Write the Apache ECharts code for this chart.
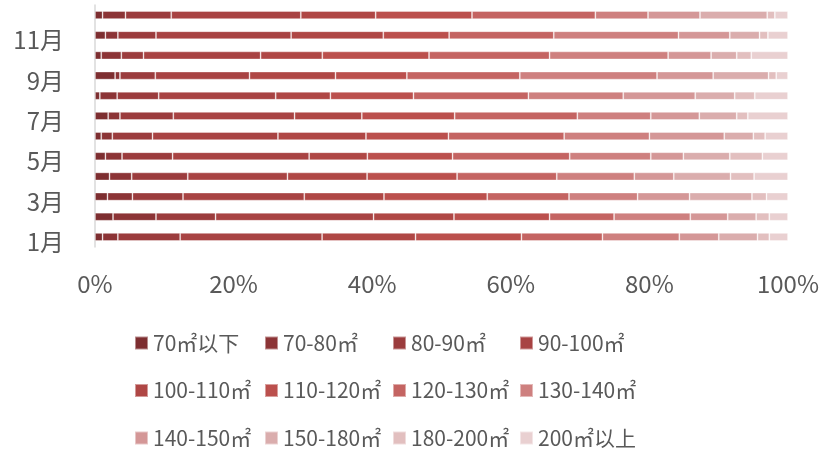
<!DOCTYPE html>
<html>
<head>
<meta charset="utf-8">
<script src="https://cdn.jsdelivr.net/npm/echarts@6/dist/echarts.min.js"></script>
<style>
  html, body { margin: 0; padding: 0; background: #ffffff; }
  #chart { width: 827px; height: 451px; }
</style>
</head>
<body>
<div id="chart"></div>
<script>
// Months, bottom to top
const months = ['1月','2月','3月','4月','5月','6月','7月','8月','9月','10月','11月','12月'];

// Size bands (share of transactions, %)
const bandNames = ['70㎡以下','70-80㎡','80-90㎡','90-100㎡','100-110㎡','110-120㎡',
                   '120-130㎡','130-140㎡','140-150㎡','150-180㎡','180-200㎡','200㎡以上'];

const band70Below  = [1.1, 2.6, 1.8, 2.1, 1.5, 0.9, 1.9, 0.7, 2.9, 0.9, 1.5, 1.1];
const band70to80   = [2.2, 6.2, 3.6, 3.2, 2.4, 1.6, 1.7, 2.5, 0.7, 2.9, 1.8, 3.3];
const band80to90   = [9.0, 8.6, 7.3, 8.1, 7.3, 5.8, 7.7, 6.0, 5.1, 3.2, 5.5, 6.6];
const band90to100  = [20.5, 22.8, 17.5, 14.4, 19.7, 18.1, 17.5, 16.9, 13.6, 16.9, 19.5, 18.7];
const band100to110 = [13.5, 11.6, 11.5, 11.5, 8.4, 12.7, 9.7, 7.9, 12.4, 8.9, 13.3, 10.8];
const band110to120 = [15.3, 13.8, 14.9, 13.0, 12.3, 11.9, 13.4, 12.0, 10.3, 15.4, 9.5, 13.9];
const band120to130 = [11.7, 9.3, 11.8, 14.4, 16.9, 16.7, 17.7, 16.6, 16.3, 17.4, 15.1, 17.8];
const band130to140 = [11.1, 11.0, 9.9, 11.2, 11.7, 12.3, 10.6, 13.7, 19.8, 17.1, 18.0, 7.6];
const band140to150 = [5.7, 5.4, 7.5, 5.7, 4.7, 10.8, 7.0, 10.4, 8.1, 6.2, 7.4, 7.5];
const band150to180 = [5.6, 4.1, 9.0, 8.2, 6.7, 4.2, 5.4, 5.7, 8.0, 3.7, 4.3, 9.7];
const band180to200 = [1.7, 1.9, 2.1, 3.4, 4.7, 1.7, 1.6, 2.9, 1.1, 2.1, 1.2, 1.1];
const band200Above = [2.7, 2.7, 3.1, 4.9, 3.7, 3.3, 5.8, 4.8, 1.7, 5.3, 2.9, 1.9];

const bandValues = [band70Below, band70to80, band80to90, band90to100, band100to110, band110to120,
                    band120to130, band130to140, band140to150, band150to180, band180to200, band200Above];

// X axis tick values (%)
const xTicks = [0, 20, 40, 60, 80, 100];

const bandColors = ['#7d2e30','#8c3436','#9b3c3d','#a84343','#af4745','#bb504d',
                    '#c46462','#ce807f','#d49797','#daadad','#e2bfbf','#e9d0d1'];

// Each month's bar is scaled to a 100% total
const monthTotals = months.map((m, i) => bandValues.reduce((s, arr) => s + arr[i], 0));

const series = bandNames.map((name, k) => ({
  name: name,
  type: 'bar',
  stack: 'share',
  barWidth: 8,
  data: bandValues[k].map((v, i) => v / monthTotals[i] * 100),
  itemStyle: {
    color: bandColors[k],
    borderColor: 'rgba(255,255,255,0.45)',
    borderWidth: 0.8
  },
  emphasis: { disabled: true }
}));

const textColor = '#595959';
const fontFamily = '"Noto Sans CJK SC", "Noto Sans", sans-serif';

// Legend laid out in four fixed columns, three rows
const legendCols = [134, 264, 392, 519];
const legends = legendCols.map((left, c) => ({
  orient: 'vertical',
  left: left,
  top: 331,
  padding: 0,
  itemWidth: 13,
  itemHeight: 13,
  itemGap: 23.5,
  icon: 'rect',
  selectedMode: false,
  data: [bandNames[c], bandNames[c + 4], bandNames[c + 8]],
  textStyle: { color: textColor, fontSize: 21, lineHeight: 24, fontFamily: fontFamily }
}));

const chart = echarts.init(document.getElementById('chart'), null, { renderer: 'canvas' });
chart.setOption({
  animation: false,
  color: bandColors,
  textStyle: { fontFamily: fontFamily },
  grid: { left: 95, right: 39, top: 5, height: 242, containLabel: false },
  legend: legends,
  xAxis: {
    type: 'value',
    min: xTicks[0],
    max: xTicks[xTicks.length - 1],
    interval: xTicks[1] - xTicks[0],
    axisLine: { show: false },
    axisTick: { show: false },
    splitLine: { show: false },
    axisLabel: {
      formatter: '{value}%',
      color: textColor,
      fontSize: 24,
      margin: 25,
      fontFamily: fontFamily
    }
  },
  yAxis: {
    type: 'category',
    data: months,
    axisLine: { show: true, lineStyle: { color: '#d9d9d9', width: 1.5 } },
    axisTick: { show: false },
    axisLabel: {
      interval: 1,
      color: textColor,
      fontSize: 24,
      margin: 31,
      verticalAlign: 'top',
      lineHeight: 10,
      fontFamily: fontFamily
    }
  },
  series: series
});
</script>
</body>
</html>
